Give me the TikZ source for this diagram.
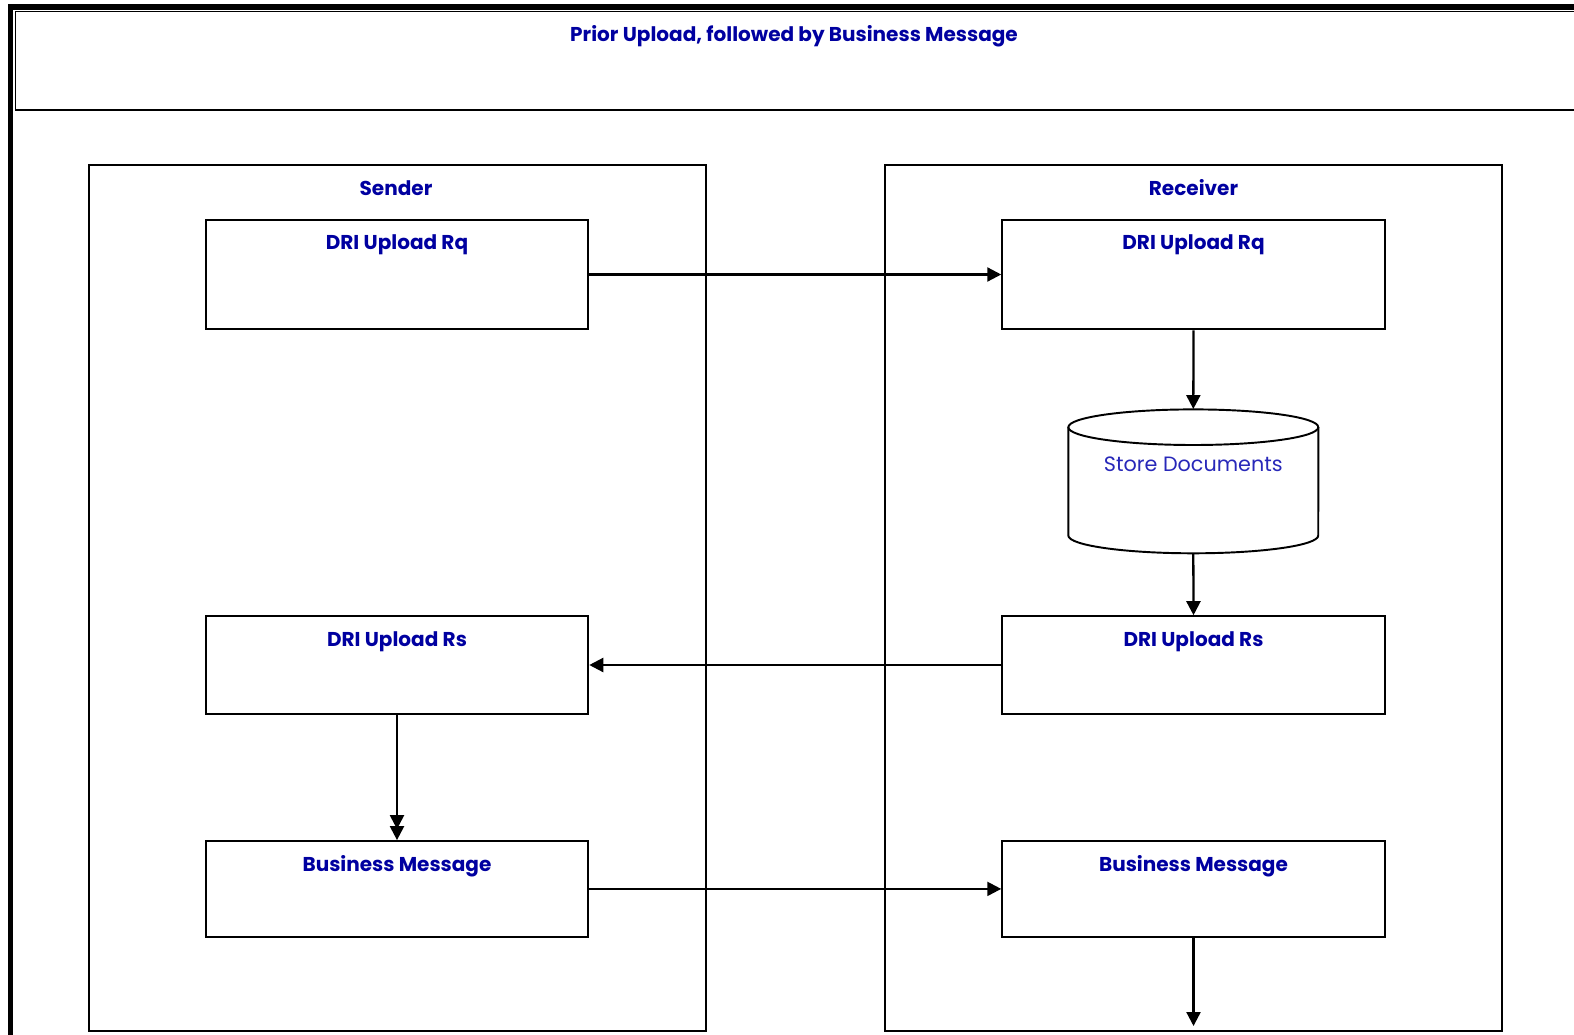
\documentclass[tikz,border=0pt]{standalone}
\usepackage{fontspec}
\setmainfont{Poppins}
\usetikzlibrary{arrows.meta}

\definecolor{msgblue}{RGB}{0,0,160}
\definecolor{storeblue}{RGB}{40,40,185}

\tikzset{
  lane/.style={draw, line width=1.2pt, inner sep=0pt, minimum width=12.34cm, minimum height=17.34cm},
  msgbox/.style={draw, line width=1.2pt, inner sep=0pt, minimum width=7.65cm},
  msgtext/.style={anchor=base, inner sep=0pt, text=msgblue, font=\bfseries\fontsize{11.4}{13}\selectfont},
  storetext/.style={anchor=base, inner sep=0pt, text=storeblue, font=\fontsize{11.8}{14}\selectfont},
  flow/.style={line width=1.3pt, -{Triangle[length=0.28cm,width=0.28cm]}},
  dflow/.style={line width=1.3pt, -{Triangle[length=0.28cm,width=0.28cm,sep=-0.06cm]Triangle[length=0.28cm,width=0.28cm]}},
}

\begin{document}
\begin{tikzpicture}[x=0.02cm, y=-0.02cm]
  \useasboundingbox (0,0) rectangle (1574,1034);
  \clip (0,0) rectangle (1574,1034);

  % Frame and title
  \draw[line width=3pt] (10.5,7) rectangle (1650,1100);
  \draw[line width=1pt] (15.5,11.5) -- (15.5,109.7) -- (1650,109.7);
  \draw[line width=1pt] (15.5,11.5) -- (1650,11.5);
  \draw[line width=1.2pt] (15.5,109.7) -- (1650,109.7);
  \node[msgtext] (title) at (794,42) {Prior Upload, followed by Business Message};

  % Lanes
  \node[lane] (sender) at (397.3,598) {};
  \node[lane] (receiver) at (1193.5,598) {};
  \node[msgtext] (senderT) at (396,195) {Sender};
  \node[msgtext] (receiverT) at (1193.5,195) {Receiver};

  % Messages
  \node[msgbox, minimum height=2.19cm] (sendRq) at (397,274.5) {};
  \node[msgbox, minimum height=2.19cm] (recvRq) at (1193.5,274.5) {};
  \node[msgbox, minimum height=1.95cm] (sendRs) at (397,665) {};
  \node[msgbox, minimum height=1.95cm] (recvRs) at (1193.5,665) {};
  \node[msgbox, minimum height=1.91cm] (sendBM) at (397,888.9) {};
  \node[msgbox, minimum height=1.91cm] (recvBM) at (1193.5,888.9) {};

  \node[msgtext] (sendRqT) at (397,249) {DRI Upload Rq};
  \node[msgtext] (recvRqT) at (1193.5,249) {DRI Upload Rq};
  \node[msgtext] (sendRsT) at (397,646.5) {DRI Upload Rs};
  \node[msgtext] (recvRsT) at (1193.5,646.5) {DRI Upload Rs};
  \node[msgtext] (sendBMT) at (397,871) {Business Message};
  \node[msgtext] (recvBMT) at (1193.5,871) {Business Message};

  % Store (cylinder)
  \node[inner sep=0pt, minimum width=5cm, minimum height=2.878cm] (store) at (1193.3,481.3) {};
  \draw[line width=1.1pt] (1193.3,427.2) ellipse [x radius=2.5cm, y radius=0.356cm];
  \draw[line width=1.1pt] (1068.3,427.2) -- (1068.3,535.5)
    arc[start angle=180, end angle=360, x radius=2.5cm, y radius=0.356cm]
    -- (1318.3,427.2);
  \node[storetext] (storeT) at (1193.3,471) {Store Documents};

  % Flow
  \coordinate (out) at (1193.5,1026);
  \draw[flow] (sendRq.east) -- (recvRq.west);
  \draw[flow] (recvRq.south) -- (store.north);
  \draw[flow] (store.south) -- (recvRs.north);
  \draw[flow] (recvRs.west) -- (sendRs.east);
  \draw[dflow] (sendRs.south) -- (sendBM.north);
  \draw[flow] (sendBM.east) -- (recvBM.west);
  \draw[flow] (recvBM.south) -- (out);
\end{tikzpicture}
\end{document}
